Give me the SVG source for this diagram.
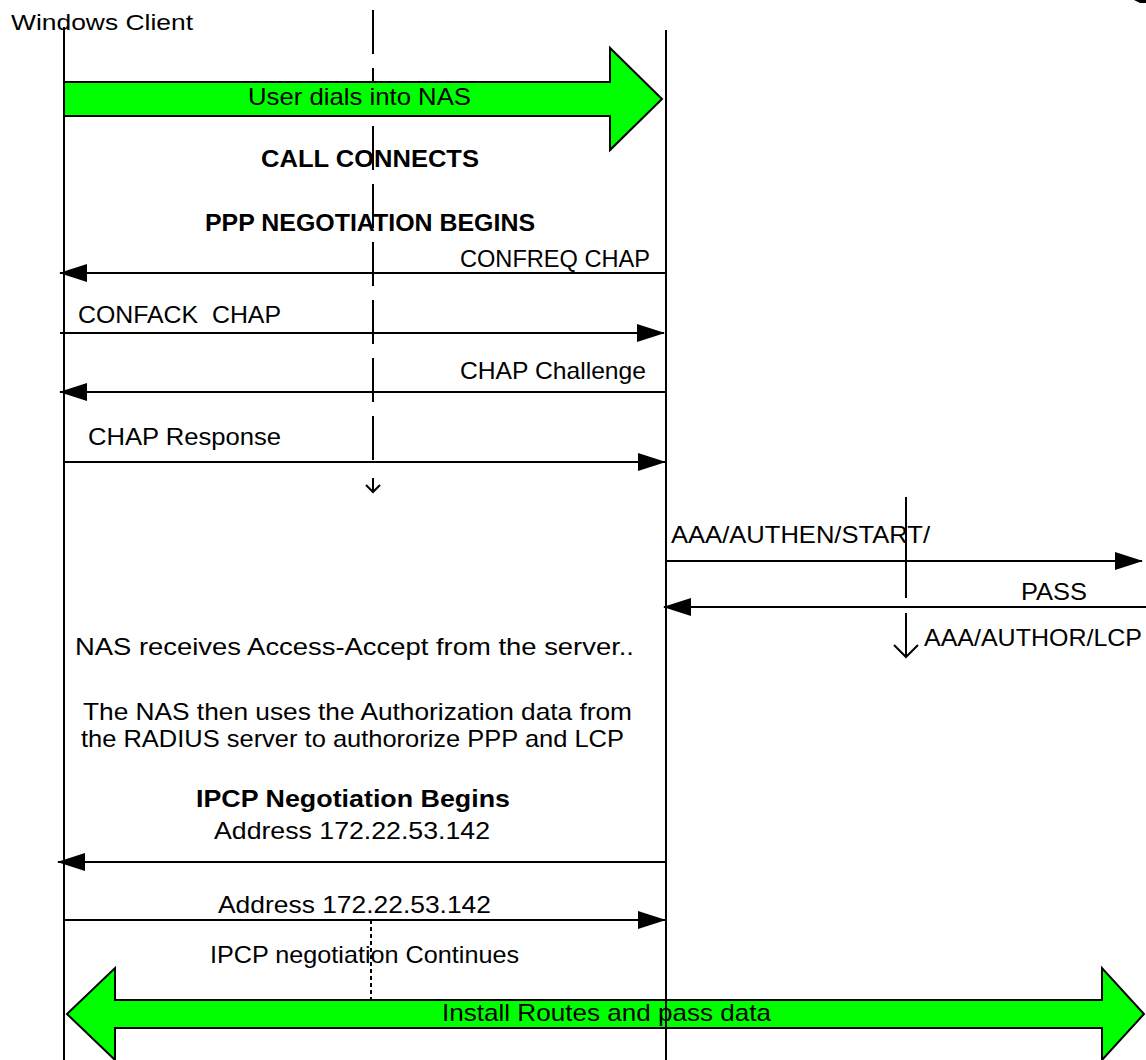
<svg xmlns="http://www.w3.org/2000/svg" width="1146" height="1060" viewBox="0 0 1146 1060">
<defs>
<style>
text{font-family:"Liberation Sans",Arial,sans-serif;font-size:24px;fill:#000}
.b{font-weight:bold}
.ln{stroke:#000;stroke-width:2;fill:none}
.msg{stroke:#000;stroke-width:2;fill:none;marker-end:url(#ah)}
.big{fill:#00ff00;stroke:#000;stroke-width:2}
</style>
<marker id="ah" viewBox="0 0 28 18" markerWidth="28" markerHeight="18" refX="27" refY="9" orient="auto" markerUnits="userSpaceOnUse">
<path d="M0,0 L28,9 L0,18 Z" fill="#000"/>
</marker>
</defs>
<rect width="1146" height="1060" fill="#fff"/>
<path d="M1134,0 L1146,0 L1146,3 L1140,3 Z" fill="#000"/>

<g id="mid-dash">
<line class="ln" x1="373" y1="10" x2="373" y2="462" stroke-dasharray="44 14"/>
<path class="ln" d="M373,478 L373,492 M366,485 L373,492 L380,485" stroke-width="1.5"/>
</g>

<g id="dial-arrow">
<polygon class="big" points="64,82 610,82 610,48 662,99 610,150 610,116 64,116"/>
<text x="248" y="105" textLength="223" lengthAdjust="spacingAndGlyphs">User dials into NAS</text>
</g>

<g id="data-arrow">
<line class="ln" x1="371" y1="920" x2="371" y2="1000" stroke-dasharray="4 3" stroke-width="1.5"/>
<polygon class="big" points="67,1014 115,968 115,1000 1102,1000 1102,968 1144,1014 1102,1060 1102,1028 115,1028 115,1060"/>
</g>

<g id="client">
<line class="ln" x1="64" y1="27" x2="64" y2="1060"/>
<text x="11" y="30" style="font-size:22px" textLength="182" lengthAdjust="spacingAndGlyphs">Windows Client</text>
</g>

<g id="nas">
<line class="ln" x1="666" y1="30" x2="666" y2="1060"/>
</g>

<g id="radius-marks">
<line class="ln" x1="906" y1="497" x2="906" y2="598"/>
<path class="ln" d="M906,613 L906,657 M894,645 L906,657 L918,645" stroke-width="1.5"/>
</g>

<g id="connectors">
<line class="msg" x1="666" y1="273" x2="60" y2="273"/>
<line class="msg" x1="60" y1="333" x2="664" y2="333"/>
<line class="msg" x1="666" y1="392" x2="60" y2="392"/>
<line class="msg" x1="64" y1="462" x2="665" y2="462"/>
<line class="msg" x1="666" y1="561" x2="1142" y2="561"/>
<line class="msg" x1="1146" y1="607" x2="664" y2="607"/>
<line class="msg" x1="666" y1="862" x2="58" y2="862"/>
<line class="msg" x1="64" y1="920" x2="665" y2="920"/>
</g>

<g id="labels">
<text class="b" x="261" y="167" textLength="218" lengthAdjust="spacingAndGlyphs">CALL CONNECTS</text>
<text class="b" x="205" y="231" textLength="330" lengthAdjust="spacingAndGlyphs">PPP NEGOTIATION BEGINS</text>
<text x="460" y="267" textLength="190" lengthAdjust="spacingAndGlyphs">CONFREQ CHAP</text>
<text x="78" y="323" textLength="203" lengthAdjust="spacingAndGlyphs" style="white-space:pre">CONFACK  CHAP</text>
<text x="460" y="379" textLength="186" lengthAdjust="spacingAndGlyphs">CHAP Challenge</text>
<text x="88" y="445" textLength="193" lengthAdjust="spacingAndGlyphs">CHAP Response</text>
<text x="671" y="543" textLength="259" lengthAdjust="spacingAndGlyphs">AAA/AUTHEN/START/</text>
<text x="1021" y="600" textLength="66" lengthAdjust="spacingAndGlyphs">PASS</text>
<text x="924" y="646" textLength="218" lengthAdjust="spacingAndGlyphs">AAA/AUTHOR/LCP</text>
<text x="75" y="655" textLength="559" lengthAdjust="spacingAndGlyphs">NAS receives Access-Accept from the server..</text>
<text x="83" y="720" textLength="549" lengthAdjust="spacingAndGlyphs">The NAS then uses the Authorization data from</text>
<text x="81" y="747" textLength="543" lengthAdjust="spacingAndGlyphs">the RADIUS server to authororize PPP and LCP</text>
<text class="b" x="196" y="807" textLength="314" lengthAdjust="spacingAndGlyphs">IPCP Negotiation Begins</text>
<text x="214" y="839" textLength="276" lengthAdjust="spacingAndGlyphs">Address 172.22.53.142</text>
<text x="218" y="913" textLength="273" lengthAdjust="spacingAndGlyphs">Address 172.22.53.142</text>
<text x="210" y="963" textLength="309" lengthAdjust="spacingAndGlyphs">IPCP negotiation Continues</text>
<text x="442" y="1021" textLength="329" lengthAdjust="spacingAndGlyphs">Install Routes and pass data</text>
</g>
</svg>
